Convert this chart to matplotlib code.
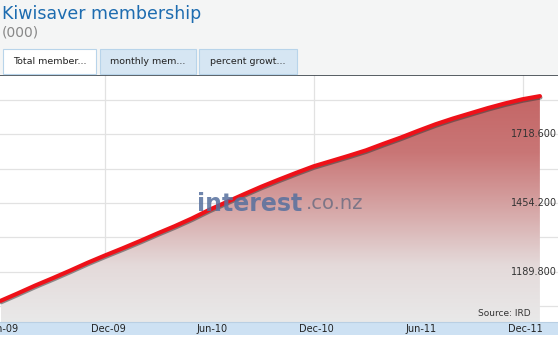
import matplotlib
matplotlib.use("Agg")
import matplotlib.pyplot as plt
import numpy as np
from matplotlib.patches import Rectangle
from matplotlib.colors import LinearSegmentedColormap
import matplotlib.patheffects as pe

# ---- data (thousands of members, monthly Jun-09 .. Jan-12) ----
members = [1079, 1108, 1138, 1166, 1195, 1225, 1253, 1280, 1308, 1337,
           1365, 1395, 1428, 1458, 1488, 1517, 1544, 1570, 1595, 1615,
           1635, 1656, 1681, 1705, 1731, 1756, 1778, 1798, 1818, 1836,
           1852, 1864]
tick_months = [0, 6, 12, 18, 24, 30]
tick_labels = ["Jun-09", "Dec-09", "Jun-10", "Dec-10", "Jun-11", "Dec-11"]
ytick_vals = [1189.8, 1454.2, 1718.6]
ytick_labels = ["1189.800", "1454.200", "1718.600"]
grid_vals = [1057.6, 1189.8, 1322.0, 1454.2, 1586.4, 1718.6, 1850.8]
vgrid_months = [6, 18, 30]
tabs = ["Total member...", "monthly mem...", "percent growt..."]

W, H = 558, 340
fig = plt.figure(figsize=(W / 100, H / 100), dpi=100)
fig.patch.set_facecolor("white")

def fx(x):
    return x / W

def fy(y):
    return 1 - y / H

# header background
fig.patches.append(Rectangle((0, fy(75)), 1, 75 / H, transform=fig.transFigure,
                             facecolor="#f4f5f5", edgecolor="none", zorder=0))
fig.text(fx(2), fy(14), "Kiwisaver membership", color="#1d6cb0", fontsize=12.5,
         va="center", ha="left")
fig.text(fx(2), fy(33), "(000)", color="#888888", fontsize=10, va="center", ha="left")

# tabs
tab_x = [(3, 96), (100, 196), (199, 297)]
for i, ((x0, x1), lab) in enumerate(zip(tab_x, tabs)):
    face = "white" if i == 0 else "#d6e6f3"
    edge = "#b8d4ea"
    fig.patches.append(Rectangle((fx(x0), fy(74)), (x1 - x0) / W, 25 / H,
                                 transform=fig.transFigure, facecolor=face,
                                 edgecolor=edge, lw=0.8, zorder=1))
    fig.text(fx((x0 + x1) / 2), fy(61), lab, fontsize=6.8, color="#222222",
             ha="center", va="center", zorder=2)

# main axes
ax = fig.add_axes([0, fy(322), 1, (322 - 75) / H])
x = np.arange(len(members))
ax.set_xlim(-0.5 / 17.4, (W - 0.5) / 17.4)
ymin, ymax = 998, 1945
ax.set_ylim(ymin, ymax)
ax.set_facecolor("white")
for s in ax.spines.values():
    s.set_visible(False)
ax.spines["top"].set_visible(True)
ax.spines["top"].set_color("#3a4248")
ax.spines["top"].set_linewidth(1.2)
ax.set_xticks([])
ax.set_yticks([])

for g in grid_vals:
    ax.axhline(g, color="#e2e2e2", lw=0.9, zorder=0)
for m in vgrid_months:
    ax.axvline(m, color="#e2e2e2", lw=0.9, zorder=0)

# gradient fill under line
poly = ax.fill_between(x, members, ymin, color="none", lw=0)
cmap = LinearSegmentedColormap.from_list(
    "g", ["#e9e9e9", "#e4dada", "#d6a6a6", "#c97676", "#c46666"])
grad = np.linspace(0, 1, 256).reshape(-1, 1)
im = ax.imshow(grad, extent=[0, len(members) - 1, ymin, max(members)],
               origin="lower", aspect="auto", cmap=cmap, zorder=1)
path = poly.get_paths()[0]
im.set_clip_path(path, transform=ax.transData)

ax.plot(x, members, color="#ee1119", lw=3.0, solid_capstyle="round", zorder=3,
        path_effects=[pe.SimpleLineShadow(offset=(0.4, -1.0), shadow_color="#333333", alpha=0.5),
                      pe.Normal()])

# y labels inside
for v, lab in zip(ytick_vals, ytick_labels):
    ax.text((W - 1 - 0.5) / 17.4, v, lab, ha="right", va="center", fontsize=7,
            color="#333333", zorder=4)

# watermark
ax.text(11.3, 1452, "interest", fontsize=17, fontweight="bold", color="#56709e",
        alpha=0.85, ha="left", va="center", zorder=4)
ax.text(17.55, 1452, ".co.nz", fontsize=14, color="#6e6e82", alpha=0.85,
        ha="left", va="center", zorder=4)

ax.text(530 / 17.4, 1012, "Source: IRD", ha="right", va="bottom", fontsize=6.5,
        color="#333333", zorder=4)

# bottom band
fig.patches.append(Rectangle((0, fy(335)), 1, 13 / H, transform=fig.transFigure,
                             facecolor="#cde1f3", edgecolor="none", zorder=0))
fig.lines.append(plt.Line2D([0, 1], [fy(322), fy(322)], transform=fig.transFigure,
                            color="#b9cfe3", lw=0.8))
for m, lab in zip(tick_months, tick_labels):
    px = 0.5 + 17.4 * m + 3
    fig.text(fx(px), fy(328.5), lab, ha="center", va="center", fontsize=7,
             color="#222222")

fig.savefig("out.png", dpi=100)
